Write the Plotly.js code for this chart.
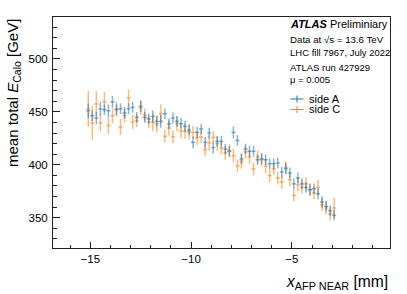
<!DOCTYPE html>
<html>
<head>
<meta charset="utf-8">
<script src="https://cdn.plot.ly/plotly-3.0.1.min.js"></script>
<style>html,body{margin:0;padding:0;background:#fff;}#chart{width:407px;height:294px;}</style>
</head>
<body>
<div id="chart"></div>
<script>
// AFP NEAR x position bin centres [mm]
const xPos = [-15.1,-14.9,-14.7,-14.5,-14.3,-14.1,-13.9,-13.7,-13.5,-13.3,-13.1,-12.9,-12.7,-12.5,-12.3,-12.1,
  -11.9,-11.7,-11.5,-11.3,-11.1,-10.9,-10.7,-10.5,-10.3,-10.1,-9.9,-9.7,-9.5,-9.3,-9.1,-8.9,
  -8.7,-8.5,-8.3,-8.1,-7.9,-7.7,-7.5,-7.3,-7.1,-6.9,-6.7,-6.5,-6.3,-6.1,-5.9,-5.7,
  -5.5,-5.3,-5.1,-4.9,-4.7,-4.5,-4.3,-4.1,-3.9,-3.7,-3.5,-3.3,-3.1,-2.9];
const xHalfWidth = 0.1;
// mean total E_Calo [GeV], side A
const sideA = [451,446.4,444.2,452.7,452.1,451.1,459.4,452.1,453,449,453,454.3,444.8,455.2,444.8,443.3,
  445.7,441,441,448.3,438.8,444.2,441,439,436.3,433,421.2,430.6,433.8,421.2,430,416.2,
  422.1,422.1,414.9,412.7,430.6,423,405.5,414.9,412.7,412.7,404.8,405.5,404.8,401,401,401.7,
  393.2,396.3,392.3,381.9,387.5,381.9,378.6,376.5,377.4,372.4,364.8,360.7,356.6,352.2];
const errA = [7,5,6,6.5,5,6,5.5,5,5,5.5,5,5,5,5.5,5,5,
  5.5,5,6,5,5,5.5,5,5,5,5,5.5,5,5,5,5,5.5,
  5,5,5,5,5.5,5,5,5,5,5,5,5,5,5,5,5,
  5,5,5,5,5,5,5,5,5,5,5.5,5,5,5];
// side C
const sideC = [452.7,439.5,457.5,439.5,459.4,437,446.4,452.7,435.7,446.4,463.1,440.5,441.7,453.7,447.1,440.5,
  440.1,438.8,448.3,426.8,434.8,426.3,438.8,432,431.6,431,430.6,425.3,426.3,414.3,420.6,426,
  420,415.9,411.2,413.6,408.6,399.1,403.2,412.1,407.4,396,407.4,404.8,398.5,389.7,396,387.5,
  383.7,397.5,385.9,371.1,381.2,378.6,381.9,376.5,373.3,378.6,362.3,359.2,353.5,359.2];
const errC = [17,16,12,8,9.5,8,7,7,7.5,6.5,8,7,6,6.5,6,6,
  8,8,9,6,7,6,7,7,7,7,6,6.5,6,6,7,6,
  7,6,6.5,6,6.5,6,7,6,6.5,6,6,6,6.5,6,6,6,
  6.5,6,6.5,5.5,6,6,6.5,6,6,7,6,6,6,9.5];
const seriesNames = ["side A", "side C"];
const infoLines = ["Data at \u221As = 13.6 TeV", "LHC fill 7967, July 2022", "ATLAS run 427929", "\u03BC = 0.005"];

const colA = "rgba(31,119,180,0.55)";
const colC = "rgba(255,127,14,0.55)";
const FONT = "Liberation Sans, Arial, Helvetica, sans-serif";

function trace(y, err, col, name) {
  return {
    x: xPos, y: y, name: name, type: "scatter", mode: "markers",
    marker: {size: 0, color: col, opacity: 0},
    error_x: {type: "constant", value: xHalfWidth, width: 0, thickness: 1.5, color: col},
    error_y: {type: "data", array: err, visible: true, width: 0, thickness: 1.5, color: col},
    showlegend: false
  };
}
const data = [trace(sideC, errC, colC, seriesNames[1]), trace(sideA, errA, colA, seriesNames[0])];

// pixel helpers for decorations (plot area: l=53, t=17, w=337, h=231)
const px = v => (v - 53) / 337;
const py = v => 1 - (v - 17) / 231;

const annotations = [
  {text: "<b><i>ATLAS</i></b> Preliminiary", x: px(288), y: py(23.5), xanchor: "left", yanchor: "middle", font: {size: 11}},
  {text: infoLines[0], x: px(287.5), y: py(39.5), xanchor: "left", yanchor: "middle", font: {size: 9.7}},
  {text: infoLines[1], x: px(288), y: py(52.5), xanchor: "left", yanchor: "middle", font: {size: 9.5}},
  {text: infoLines[2], x: px(288), y: py(67), xanchor: "left", yanchor: "middle", font: {size: 9.5}},
  {text: infoLines[3], x: px(288), y: py(79.5), xanchor: "left", yanchor: "middle", font: {size: 9.5}},
  {text: seriesNames[0], x: px(307), y: py(99), xanchor: "left", yanchor: "middle", font: {size: 11}},
  {text: seriesNames[1], x: px(307), y: py(109.5), xanchor: "left", yanchor: "middle", font: {size: 11}},
  {text: "mean total <i>E</i><sub>Calo</sub> [GeV]", textangle: -90, x: px(13), y: py(17), xanchor: "center", yanchor: "top", font: {size: 15}},
  {text: "<i>x</i><sub>AFP NEAR</sub> [mm]", x: 1, y: py(282.5), xanchor: "right", yanchor: "middle", font: {size: 15.6}}
].map(a => Object.assign({xref: "paper", yref: "paper", showarrow: false}, a));

const shapes = [];
[[99, "rgb(31,119,180)"], [109.5, "rgb(255,127,14)"]].forEach(([yy, c]) => {
  shapes.push({type: "line", xref: "paper", yref: "paper", x0: px(290.5), x1: px(303.5), y0: py(yy), y1: py(yy), line: {color: c, width: 1}});
  shapes.push({type: "line", xref: "paper", yref: "paper", x0: px(297), x1: px(297), y0: py(yy - 3.5), y1: py(yy + 3.5), line: {color: c, width: 1}});
});

const layout = {
  width: 407, height: 294,
  margin: {l: 53, r: 17, t: 17, b: 46, pad: 0},
  paper_bgcolor: "#fff", plot_bgcolor: "#fff",
  font: {family: FONT, color: "#000", size: 11},
  showlegend: false,
  xaxis: {
    range: [-16.85, -0.13], showline: true, mirror: true, linecolor: "#222", linewidth: 1,
    ticks: "inside", ticklen: 6, tickcolor: "#222", tickwidth: 1,
    tick0: 0, dtick: 5, showgrid: false, zeroline: false,
    tickfont: {size: 11.5}, ticklabelstandoff: 0,
    minor: {dtick: 1, tick0: 0, ticks: "inside", ticklen: 3, tickcolor: "#222", showgrid: false}
  },
  yaxis: {
    range: [321.3, 539.7], showline: true, mirror: true, linecolor: "#222", linewidth: 1,
    ticks: "inside", ticklen: 7, tickcolor: "#222", tickwidth: 1,
    tick0: 0, dtick: 50, showgrid: false, zeroline: false,
    tickfont: {size: 11.5}, ticklabelstandoff: 2,
    minor: {dtick: 10, tick0: 0, ticks: "inside", ticklen: 4, tickcolor: "#222", showgrid: false}
  },
  annotations: annotations,
  shapes: shapes
};

Plotly.newPlot("chart", data, layout, {staticPlot: true, displayModeBar: false});
</script>
</body>
</html>
